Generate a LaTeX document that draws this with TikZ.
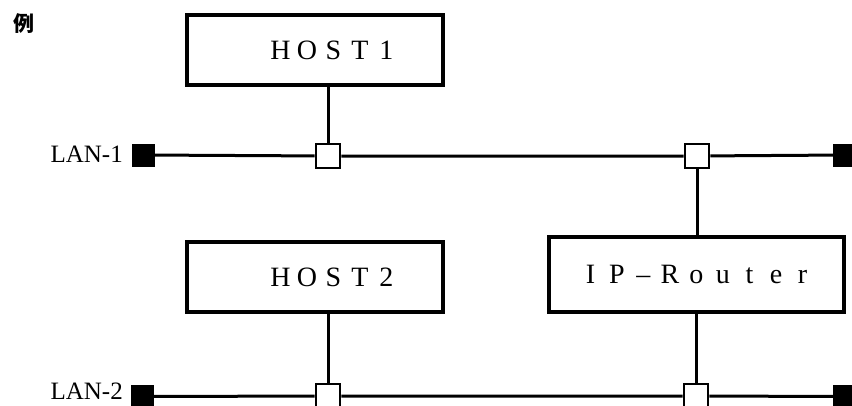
\documentclass[tikz,border=0pt]{standalone}
\usepackage{fontspec}
\setmainfont{Liberation Serif}
\newfontfamily\cjk{Noto Sans CJK JP}
\newcommand\cell[1]{\makebox[26.5pt]{#1}}
\begin{document}
\begin{tikzpicture}[x=1pt,y=-1pt,
  wire/.style={line width=3pt},
  unit/.style={draw,line width=3.2pt,rectangle,inner sep=0pt,
    font=\fontsize{28}{28}\selectfont},
  port/.style={draw,fill=white,line width=2.8pt,rectangle,inner sep=0pt,
    minimum size=24pt},
  term/.style={fill=black,rectangle,inner sep=0pt,minimum size=23pt},
  lanlabel/.style={anchor=east,inner sep=0pt,font=\fontsize{25}{25}\selectfont}]
\useasboundingbox (0,0) rectangle (852,405);
\clip (0,0) rectangle (852,405);

% heading
\node[inner sep=0pt,font=\cjk\bfseries\fontsize{21}{21}\selectfont] (rei) at (24,24) {例};

% hosts and router
\node[unit,minimum width=256pt,minimum height=70pt] (host1) at (315,50)
  {\raisebox{-3pt}{\hspace*{37pt}\cell{H}\cell{O}\cell{S}\cell{T}\cell{1}}};
\node[unit,minimum width=256pt,minimum height=70pt] (host2) at (315,277)
  {\raisebox{-3pt}{\hspace*{37pt}\cell{H}\cell{O}\cell{S}\cell{T}\cell{2}}};
\node[unit,minimum width=295pt,minimum height=75pt] (router) at (696.5,274.5)
  {\raisebox{-4pt}{\cell{I}\cell{P}\cell{–}\cell{R}\cell{o}\cell{u}\cell{t}\cell{e}\cell{r}}};

% LAN-1
\node[term] (l1a) at (143.5,155) {};
\node[term] (l1b) at (844.5,155) {};
\node[port] (p1a) at (328,156) {};
\node[port] (p1b) at (697,156) {};
\node[lanlabel] (lan1) at (123,154) {LAN-1};

% LAN-2
\node[term] (l2a) at (142,396.5) {};
\node[term] (l2b) at (844.5,396.5) {};
\node[port] (p2a) at (328,396) {};
\node[port] (p2b) at (696,396) {};
\node[lanlabel] (lan2) at (123,391) {LAN-2};

% network segments and drop lines
\draw[wire] (l1a) -- (p1a) -- (p1b) -- (l1b);
\draw[wire] (l2a) -- (p2a) -- (p2b) -- (l2b);
\draw[wire] (p1a.north) -- (p1a.north |- host1.south);
\draw[wire] (p1b.south) -- (p1b.south |- router.north);
\draw[wire] (p2a.north) -- (p2a.north |- host2.south);
\draw[wire] (p2b.north) -- (p2b.north |- router.south);
\end{tikzpicture}
\end{document}
